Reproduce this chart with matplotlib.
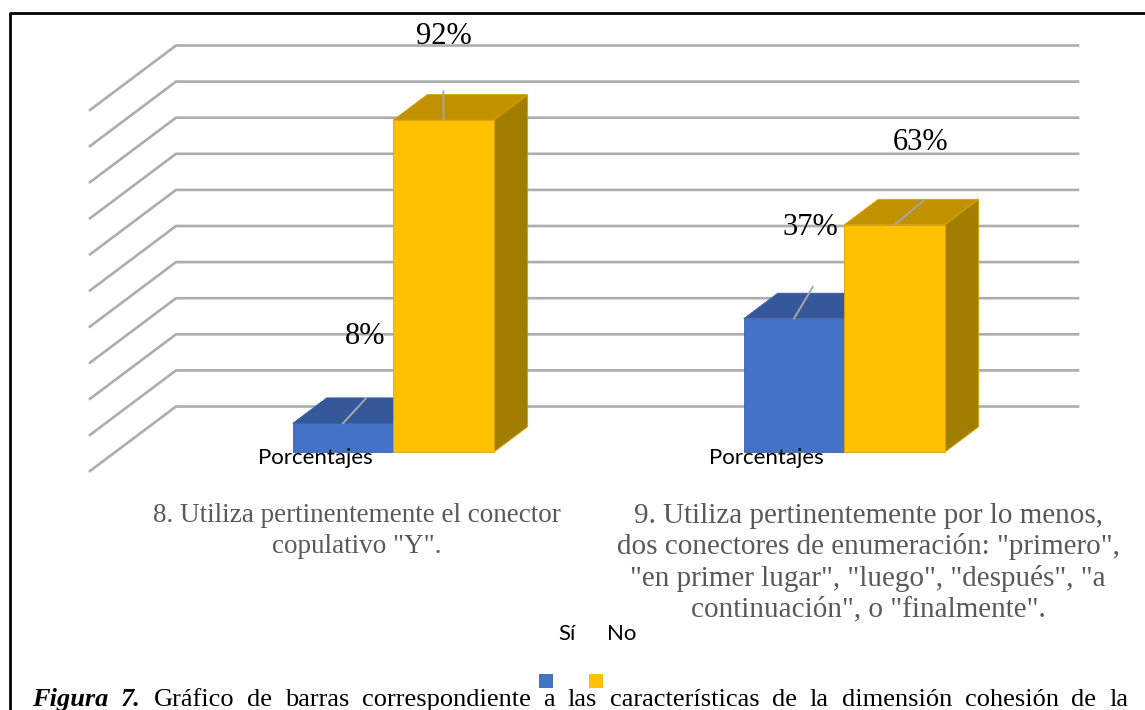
import matplotlib
matplotlib.use('Agg')
import matplotlib.pyplot as plt
from matplotlib.patches import Polygon, Rectangle
from matplotlib.lines import Line2D

# data
categories = ['Porcentajes', 'Porcentajes']
item_titles = [
    '8. Utiliza pertinentemente el conector\ncopulativo "Y".',
    '9. Utiliza pertinentemente por lo menos,\ndos conectores de enumeración: "primero",\n'
    '"en primer lugar", "luego", "después", "a\ncontinuación", o "finalmente".',
]
series_names = ['Sí', 'No']
si_values = [8, 37]
no_values = [92, 63]
y_ticks = list(range(0, 101, 10))
caption_bold = ['Figura', '7.']
caption_words = ['Gráfico', 'de', 'barras', 'correspondiente', 'a', 'las',
                 'características', 'de', 'la', 'dimensión', 'cohesión', 'de', 'la']

# style / layout
W, H = 1145, 710
front_col = ['#4472C4', '#FFC000']
top_col = ['#34589A', '#C19100']
side_col = ['#2B4A80', '#A17D00']
edge_col = ['#3A64AE', '#D9A400']
bar_left, bar_w = -0.106, 0.2228
d_front, d_back, d_wall = 25, 59, 86
# label offsets (px) from the front-top centre of each bar, and leader segments
label_off = [[(22, 87), (16, 91)], [(0, 84), (26, 82)]]
leader_off = [[(23, 25), (19, 32)], [(0, 29), (29, 24)]]
serif = 'Liberation Serif'

fig = plt.figure(figsize=(W / 100, H / 100), dpi=100)
ax = fig.add_axes([90 / W, 239 / H, 902 / W, 361 / H])
ax.set_xlim(0, 2)
ax.set_ylim(0, 100)
ax.axis('off')


def shift(x, v, d):
    # push a data point back by d pixels into the depth of the pseudo-3D box
    px, py = ax.transData.transform((x, v))
    return ax.transData.inverted().transform((px + d, py + 0.75 * d))


# walls: side diagonals + back gridlines
for v in y_ticks:
    pts = [shift(0, v, 0), shift(0, v, d_wall), shift(2, v, d_wall)]
    ax.plot([p[0] for p in pts], [p[1] for p in pts], color='#adadad', lw=1.9,
            clip_on=False, solid_joinstyle='miter', zorder=1)

values = [si_values, no_values]
for i in range(len(categories)):
    for j, vals in enumerate(values):
        v = vals[i]
        x0 = i + 0.5 + bar_left + j * bar_w
        x1 = x0 + bar_w
        front = [shift(x0, 0, d_front), shift(x1, 0, d_front), shift(x1, v, d_front), shift(x0, v, d_front)]
        top = [shift(x0, v, d_front), shift(x1, v, d_front), shift(x1, v, d_back), shift(x0, v, d_back)]
        side = [shift(x1, 0, d_front), shift(x1, 0, d_back), shift(x1, v, d_back), shift(x1, v, d_front)]
        for poly, col in [(side, side_col[j]), (top, top_col[j]), (front, front_col[j])]:
            ax.add_patch(Polygon(poly, closed=True, facecolor=col, edgecolor=edge_col[j],
                                 lw=0.6, clip_on=False, zorder=2 + i * 2 + j))
        cx, cy = shift((x0 + x1) / 2, v, d_front)
        ax.annotate('', xy=(cx, cy), xytext=leader_off[j][i], textcoords='offset pixels',
                    arrowprops=dict(arrowstyle='-', color='#a6a6a6', lw=1.4,
                                    shrinkA=0, shrinkB=0), zorder=10)
        ax.annotate(f'{v}%', xy=(cx, cy), xytext=label_off[j][i], textcoords='offset pixels',
                    ha='center', va='center', fontsize=22, family=serif, color='black',
                    zorder=11)
    ax.annotate(categories[i], xy=(i + 0.5, 0), xytext=(0, 13), textcoords='offset pixels',
                ha='center', va='center', fontsize=16, family='Lato', color='black', zorder=12)

# item titles under each group
title_x = [357, 868]
title_size = [19.5, 21]
title_spacing = [1.3, 1.21]
for tx, t, fs, ls in zip(title_x, item_titles, title_size, title_spacing):
    fig.text(tx / W, 1 - 503 / H, t, ha='center', va='top', multialignment='center',
             color='#595959', family=serif, fontsize=fs, linespacing=ls)

# legend: names above, swatches below
leg_text_x = [567, 622]
leg_box_x = [539, 589]
for name, tx, bx, col in zip(series_names, leg_text_x, leg_box_x, front_col):
    fig.text(tx / W, 1 - 634 / H, name, ha='center', va='center', family='Lato',
             fontsize=16, color='black')
    fig.add_artist(Rectangle((bx / W, 1 - 688 / H), 14 / W, 14 / H, facecolor=col,
                             edgecolor='none', transform=fig.transFigure))

# frame around the figure
fig.add_artist(Line2D([10 / W, 10 / W, 1], [0, 1 - 13 / H, 1 - 13 / H],
                      transform=fig.transFigure, color='black', lw=2))

# justified caption
renderer = fig.canvas.get_renderer()
words = [(w, True) for w in caption_bold] + [(w, False) for w in caption_words]
arts = []
for w, bold in words:
    t = fig.text(0, 1 - 706 / H, w, ha='left', va='baseline', family=serif, fontsize=19,
                 color='black', weight='bold' if bold else 'normal',
                 style='italic' if bold else 'normal')
    arts.append(t)
widths = [a.get_window_extent(renderer).width for a in arts]
x_start, x_end = 32, 1128
gap = (x_end - x_start - sum(widths)) / (len(arts) - 1)
x = x_start
for a, wd in zip(arts, widths):
    a.set_x(x / W)
    x += wd + gap

fig.savefig('out.png', dpi=100)
